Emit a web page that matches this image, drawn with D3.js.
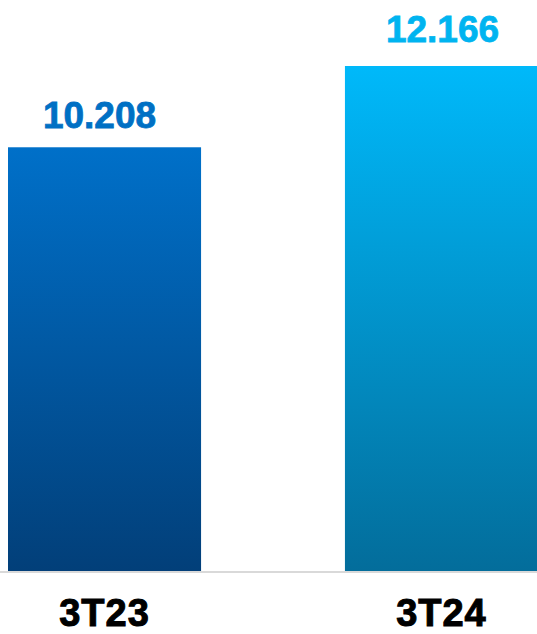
<!DOCTYPE html>
<html>
<head>
<meta charset="utf-8">
<script src="https://cdn.jsdelivr.net/npm/d3@7"></script>
<style>
  html, body { margin: 0; padding: 0; background: #fff; }
  svg { display: block; }
</style>
</head>
<body>
<svg id="chart" width="537" height="634"></svg>
<script>
const categories = ["3T23", "3T24"];
const values = [10.208, 12.166];
const valueLabels = ["10.208", "12.166"];

const W = 537, H = 634;
const svg = d3.select("#chart");
const baseY = 571;

const x = d3.scaleBand().domain(categories).range([8, 538]).paddingInner(0.427).paddingOuter(0);
const y = d3.scaleLinear().domain([0, 12.166]).range([baseY, 66]);

const grads = [
  { id: "g0", top: "#0070C9", bottom: "#023F79", text: "#0070C4" },
  { id: "g1", top: "#00B9FA", bottom: "#036D9B", text: "#00B4F0" }
];
const defs = svg.append("defs");
grads.forEach(g => {
  const lg = defs.append("linearGradient").attr("id", g.id)
    .attr("x1", 0).attr("y1", 0).attr("x2", 0).attr("y2", 1);
  lg.append("stop").attr("offset", "0%").attr("stop-color", g.top);
  lg.append("stop").attr("offset", "100%").attr("stop-color", g.bottom);
});

const data = categories.map((c, i) => ({ c, v: values[i], label: valueLabels[i], i }));

svg.selectAll("rect.bar").data(data).enter().append("rect")
  .attr("class", "bar")
  .attr("x", d => x(d.c))
  .attr("width", x.bandwidth())
  .attr("y", d => y(d.v))
  .attr("height", d => baseY - y(d.v))
  .attr("fill", d => `url(#${grads[d.i].id})`);

// baseline
svg.append("line")
  .attr("x1", 0).attr("x2", W)
  .attr("y1", baseY + 1).attr("y2", baseY + 1)
  .attr("stroke", "#d9d9d9").attr("stroke-width", 2);

const font = "'Liberation Sans', Arial, Helvetica, sans-serif";

svg.selectAll("text.val").data(data).enter().append("text")
  .attr("class", "val")
  .attr("x", d => x(d.c) + x.bandwidth() / 2 + (d.i === 0 ? -5 : 1))
  .attr("y", d => y(d.v) - (d.i === 0 ? 19 : 24))
  .attr("text-anchor", "middle")
  .attr("font-family", font)
  .attr("font-weight", "bold")
  .attr("font-size", 37)
  .attr("fill", d => grads[d.i].text)
  .attr("stroke", d => grads[d.i].text)
  .attr("stroke-width", 0.8)
  .text(d => d.label);

svg.selectAll("text.cat").data(data).enter().append("text")
  .attr("class", "cat")
  .attr("x", d => x(d.c) + x.bandwidth() / 2)
  .attr("y", 626)
  .attr("text-anchor", "middle")
  .attr("font-family", font)
  .attr("font-weight", "bold")
  .attr("font-size", 38)
  .attr("letter-spacing", 1)
  .attr("fill", "#000")
  .attr("stroke", "#000")
  .attr("stroke-width", 1)
  .text(d => d.c);
</script>
</body>
</html>
